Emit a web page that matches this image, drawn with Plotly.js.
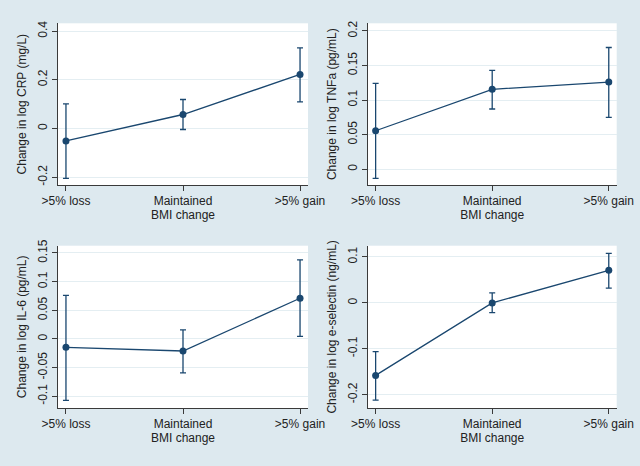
<!DOCTYPE html>
<html>
<head>
<meta charset="utf-8">
<script src="https://cdn.plot.ly/plotly-3.0.1.min.js"></script>
<style>html,body{margin:0;padding:0;background:#dde9ef;}#chart{width:640px;height:466px;}</style>
</head>
<body>
<div id="chart"></div>
<script>
var categories = ['>5% loss', 'Maintained', '>5% gain'];

var crpMean = [-0.051, 0.0575, 0.222];
var crpLow  = [-0.205, -0.004, 0.109];
var crpHigh = [0.101, 0.119, 0.331];

var tnfMean = [0.0555, 0.1155, 0.126];
var tnfLow  = [-0.0135, 0.087, 0.075];
var tnfHigh = [0.124, 0.143, 0.176];

var il6Mean = [-0.0145, -0.021, 0.071];
var il6Low  = [-0.107, -0.059, 0.0047];
var il6High = [0.076, 0.0157, 0.138];

var eselMean = [-0.158, 0.0, 0.071];
var eselLow  = [-0.212, -0.021, 0.032];
var eselHigh = [-0.106, 0.022, 0.108];

var crpTicks = [-0.2, 0, 0.2, 0.4];
var crpTickText = ['-0.2', '0', '0.2', '0.4'];
var tnfTicks = [0, 0.05, 0.1, 0.15, 0.2];
var tnfTickText = ['0', '0.05', '0.1', '0.15', '0.2'];
var il6Ticks = [-0.1, -0.05, 0, 0.05, 0.1, 0.15];
var il6TickText = ['-0.1', '-0.05', '0', '0.05', '0.1', '0.15'];
var eselTicks = [-0.2, -0.1, 0, 0.1];
var eselTickText = ['-0.2', '-0.1', '0', '0.1'];

var navy = '#1a476f';
var axisColor = '#3a3a3a';
var gridColor = '#e4eef2';
var font = {family: 'Liberation Sans, Arial, sans-serif', size: 12, color: '#222'};

function trace(mean, low, high, xa, ya) {
  var plus = mean.map(function (m, i) { return high[i] - m; });
  var minus = mean.map(function (m, i) { return m - low[i]; });
  return {
    type: 'scatter', mode: 'lines+markers',
    x: categories, y: mean, xaxis: xa, yaxis: ya,
    line: {color: navy, width: 1.3},
    marker: {color: navy, size: 7},
    error_y: {type: 'data', symmetric: false, array: plus, arrayminus: minus,
              color: navy, thickness: 1.3, width: 3},
    showlegend: false, hoverinfo: 'skip'
  };
}

function xaxis(domain, anchor) {
  return {
    domain: domain, anchor: anchor, type: 'category',
    range: [-0.068, 2.068],
    showline: true, linecolor: axisColor, linewidth: 1,
    ticks: 'outside', ticklen: 5, tickcolor: axisColor, tickwidth: 1,
    showgrid: false, zeroline: false,
    tickfont: font,
    title: {text: 'BMI change', font: font, standoff: 2}
  };
}

function yaxis(domain, anchor, range, tv, tt, title) {
  return {
    domain: domain, anchor: anchor, range: range,
    tickmode: 'array', tickvals: tv, ticktext: tt, tickangle: -90,
    showline: true, linecolor: axisColor, linewidth: 1,
    ticks: 'outside', ticklen: 5, tickcolor: axisColor, tickwidth: 1,
    showgrid: true, gridcolor: gridColor, gridwidth: 1, zeroline: false,
    tickfont: font,
    title: {text: title, font: font, standoff: 6}
  };
}

var xL = [58 / 640, 308 / 640];
var xR = [367.7 / 640, 616.7 / 640];
var yT = [1 - 185 / 466, 1 - 23.3 / 466];
var yB = [1 - 408 / 466, 1 - 245.7 / 466];

var data = [
  trace(crpMean, crpLow, crpHigh, 'x', 'y'),
  trace(tnfMean, tnfLow, tnfHigh, 'x2', 'y2'),
  trace(il6Mean, il6Low, il6High, 'x3', 'y3'),
  trace(eselMean, eselLow, eselHigh, 'x4', 'y4')
];

var layout = {
  width: 640, height: 466,
  margin: {l: 0, r: 0, t: 0, b: 0},
  paper_bgcolor: '#dde9ef',
  plot_bgcolor: '#ffffff',
  font: font,
  xaxis: xaxis(xL, 'y'),
  yaxis: yaxis(yT, 'x', [-0.232, 0.432], crpTicks, crpTickText, 'Change in log CRP (mg/L)'),
  xaxis2: xaxis(xR, 'y2'),
  yaxis2: yaxis(yT, 'x2', [-0.023, 0.211], tnfTicks, tnfTickText, 'Change in log TNFa (pg/mL)'),
  xaxis3: xaxis(xL, 'y3'),
  yaxis3: yaxis(yB, 'x3', [-0.1204, 0.1627], il6Ticks, il6TickText, 'Change in log IL-6 (pg/mL)'),
  xaxis4: xaxis(xR, 'y4'),
  yaxis4: yaxis(yB, 'x4', [-0.229, 0.1246], eselTicks, eselTickText, 'Change in log e-selectin (ng/mL)')
};

Plotly.newPlot('chart', data, layout, {staticPlot: true});
</script>
</body>
</html>
